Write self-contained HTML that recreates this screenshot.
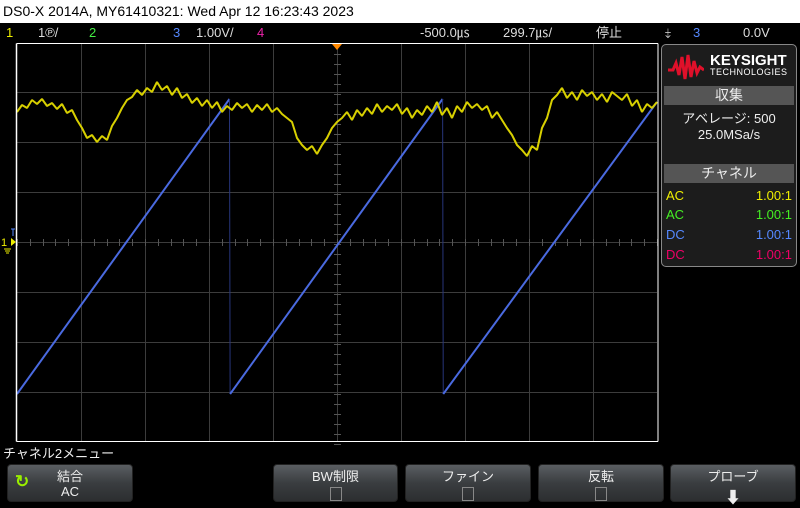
<!DOCTYPE html>
<html><head><meta charset="utf-8">
<style>
body{margin:0;width:800px;height:503px;background:#000;overflow:hidden;font-family:"Liberation Sans","Noto Sans CJK JP",sans-serif;position:relative}
.abs{position:absolute}
#hdr{left:0;top:0;width:800px;height:23px;background:#fff;color:#000;font-size:14px;line-height:23px;padding-left:3px;box-sizing:border-box}
.st{top:23px;height:20px;line-height:20px;font-size:13px;color:#ddd}
#panel{left:661px;top:44px;width:136px;height:223px;background:#1c1c1c;border:1px solid #888;border-radius:5px;box-sizing:border-box}
.ph{position:absolute;left:2px;width:130px;height:19px;background:#555;color:#eee;font-size:14px;text-align:center;line-height:19px}
.pl{position:absolute;font-size:13px}
.btn{position:absolute;top:464px;height:38px;border-radius:4px;background:linear-gradient(#5a5e62,#3a3d40 50%,#2c2e30);color:#eee;font-size:13px;text-align:center;border:1px solid #222;box-sizing:border-box}
.btn .a{position:absolute;left:0;right:0;top:1px}
.btn .b{position:absolute;left:0;right:0;top:19px}
.chk{display:inline-block;width:10px;height:12px;border:1px solid #888;margin-top:3px}
</style></head><body>
<div id="hdr" class="abs">DS0-X 2014A, MY61410321: Wed Apr 12 16:23:43 2023</div>
<div class="abs st" style="left:6px;color:#ee0">1</div>
<div class="abs st" style="left:38px">1℗/</div>
<div class="abs st" style="left:89px;color:#4e4">2</div>
<div class="abs st" style="left:173px;color:#58f">3</div>
<div class="abs st" style="left:196px">1.00V/</div>
<div class="abs st" style="left:257px;color:#e2a">4</div>
<div class="abs st" style="left:420px">-500.0㎲</div>
<div class="abs st" style="left:503px">299.7㎲/</div>
<div class="abs st" style="left:596px">停止</div>
<div class="abs st" style="left:665px">⤈</div>
<div class="abs st" style="left:693px;color:#58f">3</div>
<div class="abs st" style="left:743px">0.0V</div>

<svg class="abs" style="left:0;top:0" width="800" height="503">
<g id="grid"></g>
<g id="traces"></g>
<line x1="16.5" y1="43.5" x2="16.5" y2="441.5" stroke="#fff" stroke-width="1.5"/>
<line x1="16.5" y1="43.5" x2="658" y2="43.5" stroke="#fff" stroke-width="1"/>
<line x1="16.5" y1="441.5" x2="658" y2="441.5" stroke="#fff" stroke-width="1"/>
<line x1="658" y1="43.5" x2="658" y2="441.5" stroke="#fff" stroke-width="1"/>
<polygon points="332,44 342,44 337,50" fill="#f80"/>
<g>
<line x1="11" y1="229" x2="15" y2="229" stroke="#58f"/><line x1="13" y1="229" x2="13" y2="236" stroke="#58f"/>
<polygon points="11,238 16,242 11,246" fill="#ee0"/>
<text x="1" y="246" font-size="11" fill="#ee0" font-family="Liberation Sans">1</text>
<line x1="4" y1="249" x2="11" y2="249" stroke="#ee0"/><line x1="5" y1="251" x2="10" y2="251" stroke="#ee0"/><line x1="6" y1="253" x2="9" y2="253" stroke="#ee0"/>
</g>
</svg>

<div id="panel" class="abs">
<svg class="abs" style="left:6px;top:8px" width="36" height="28"><path d="M0,17 L5,17 L8,10 L11,22 L14,4 L17,26 L20,2 L23,24 L26,8 L29,20 L32,14 L36,17" stroke="#e0102a" stroke-width="3" fill="none"/></svg>
<div class="pl" style="left:48px;top:7px;font-size:15px;font-weight:bold;color:#fff">KEYSIGHT</div>
<div class="pl" style="left:48px;top:22px;font-size:9px;color:#fff;letter-spacing:0.5px">TECHNOLOGIES</div>
<div class="ph" style="top:41px">収集</div>
<div class="pl" style="left:0;width:134px;text-align:center;top:63px;color:#eee;font-size:13px">アベレージ: 500</div>
<div class="pl" style="left:0;width:134px;text-align:center;top:82px;color:#eee;font-size:13px">25.0MSa/s</div>
<div class="ph" style="top:119px">チャネル</div>
<div class="pl" style="left:4px;top:143px;color:#ee0">AC</div><div class="pl" style="right:4px;top:143px;color:#ee0">1.00:1</div>
<div class="pl" style="left:4px;top:162px;color:#4e2">AC</div><div class="pl" style="right:4px;top:162px;color:#4e2">1.00:1</div>
<div class="pl" style="left:4px;top:182px;color:#58f">DC</div><div class="pl" style="right:4px;top:182px;color:#58f">1.00:1</div>
<div class="pl" style="left:4px;top:202px;color:#e06">DC</div><div class="pl" style="right:4px;top:202px;color:#e06">1.00:1</div>
</div>

<div class="abs" style="left:3px;top:443px;color:#eee;font-size:13px">チャネル2メニュー</div>
<div class="btn" style="left:7px;width:126px"><span class="abs" style="left:7px;top:7px;color:#9e0;font-size:17px;font-weight:bold">↻</span><div class="a">結合</div><div class="b">AC</div></div>
<div class="btn" style="left:273px;width:125px"><div class="a">BW制限</div><div class="b"><span class="chk"></span></div></div>
<div class="btn" style="left:405px;width:126px"><div class="a">ファイン</div><div class="b"><span class="chk"></span></div></div>
<div class="btn" style="left:538px;width:126px"><div class="a">反転</div><div class="b"><span class="chk"></span></div></div>
<div class="btn" style="left:670px;width:126px"><div class="a">プローブ</div><div class="b" style="font-size:16px">⬇</div></div>

<script>
// data
const ch1Div=[2.60,2.74,2.68,2.84,2.76,2.86,2.72,2.78,2.66,2.76,2.58,2.64,2.44,2.28,2.08,2.14,2.00,2.12,2.04,2.32,2.48,2.68,2.84,2.90,3.04,2.94,3.08,3.00,3.20,3.04,3.12,2.94,3.08,2.88,2.96,2.78,2.88,2.72,2.84,2.68,2.80,2.60,2.72,2.64,2.78,2.68,2.76,2.60,2.74,2.64,2.76,2.60,2.68,2.56,2.48,2.40,2.08,1.94,1.84,1.92,1.76,1.94,2.08,2.28,2.40,2.48,2.60,2.44,2.64,2.52,2.68,2.56,2.76,2.60,2.72,2.64,2.76,2.56,2.68,2.48,2.64,2.54,2.72,2.60,2.80,2.54,2.68,2.48,2.72,2.60,2.80,2.68,2.76,2.64,2.72,2.48,2.60,2.44,2.28,2.14,1.94,1.84,1.72,1.92,1.84,2.28,2.48,2.84,2.94,3.08,2.88,3.00,2.84,3.04,2.92,3.00,2.84,2.96,2.80,3.00,2.92,2.84,2.96,2.72,2.84,2.60,2.76,2.68,2.80];
const rampTimes=[0,3.32,3.33,6.65,6.66,10];
const rampVolts=[-3.04,2.86,-3.04,2.86,-3.04,2.80];
const hDivs=10, vDivs=8;
// axes
const X0=17,X1=657,YC=242,PXV=50;
const xAt=t=>X0+(X1-X0)*t/hDivs;
const yAt=v=>YC-v*PXV;
const NS='http://www.w3.org/2000/svg';
const grid=document.getElementById('grid');
function ln(g,x1,y1,x2,y2,c,w){const l=document.createElementNS(NS,'line');l.setAttribute('x1',x1);l.setAttribute('y1',y1);l.setAttribute('x2',x2);l.setAttribute('y2',y2);l.setAttribute('stroke',c);l.setAttribute('stroke-width',w||1);g.appendChild(l);return l;}
for(let i=1;i<hDivs;i++){const x=Math.round(xAt(i))+0.5;ln(grid,x,44,x,441,'#3c3c3c');}
for(let j=-3;j<=3;j++){const y=yAt(j)+0.5;ln(grid,17,y,657,y,'#3c3c3c');}
for(let k=0;k<=hDivs*5;k++){const x=Math.round(xAt(k/5))+0.5;ln(grid,x,YC-3,x,YC+4,'#555');}
for(let k=0;k<=vDivs*5;k++){const y=Math.round(44+k*10)+0.5;ln(grid,334,y,341,y,'#555');}
const tr=document.getElementById('traces');
// ch3 ramp
for(let i=0;i<rampTimes.length-1;i++){
  const rising=rampVolts[i+1]>rampVolts[i];
  const l=ln(tr,xAt(rampTimes[i]),yAt(rampVolts[i]),xAt(rampTimes[i+1]),yAt(rampVolts[i+1]),rising?'#4a6ae0':'#27357a',rising?2:1);
  
  
}
// ch1 noisy trace
const p=document.createElementNS(NS,'polyline');
p.setAttribute('points',ch1Div.map((v,i)=>xAt(i*hDivs/(ch1Div.length-1)).toFixed(1)+','+yAt(v).toFixed(1)).join(' '));
p.setAttribute('fill','none');p.setAttribute('stroke','#d8d000');p.setAttribute('stroke-width','2');p.setAttribute('stroke-linejoin','bevel');


tr.appendChild(p);
</script>
</body></html>
